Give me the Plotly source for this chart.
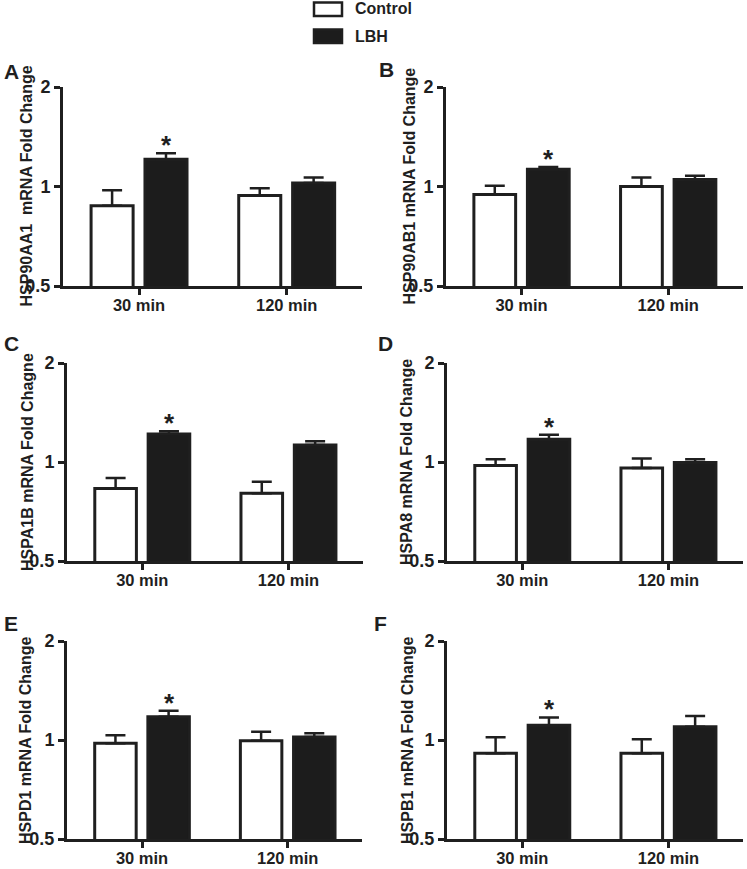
import math
import plotly.graph_objects as go

# ---------------- data ----------------
categories = ["30 min", "120 min"]
panel_letters = ["A", "B", "C", "D", "E", "F"]
y_titles = [
    "HSP90AA1  mRNA Fold Change",
    "HSP90AB1 mRNA Fold Change",
    "HSPA1B mRNA Fold Chagne",
    "HSPA8 mRNA Fold Change",
    "HSPD1 mRNA Fold Change",
    "HSPB1 mRNA Fold Change",
]
control_mean = [
    [0.874, 0.939],
    [0.946, 1.000],
    [0.830, 0.803],
    [0.975, 0.959],
    [0.977, 0.995],
    [0.911, 0.911],
]
control_sem = [
    [0.101, 0.049],
    [0.059, 0.065],
    [0.064, 0.068],
    [0.045, 0.065],
    [0.056, 0.065],
    [0.108, 0.094],
]
lbh_mean = [
    [1.209, 1.025],
    [1.128, 1.050],
    [1.217, 1.127],
    [1.173, 0.996],
    [1.177, 1.021],
    [1.108, 1.097],
]
lbh_sem = [
    [0.051, 0.040],
    [0.018, 0.027],
    [0.023, 0.029],
    [0.037, 0.024],
    [0.051, 0.027],
    [0.063, 0.086],
]
significant = [
    [True, False],
    [True, False],
    [True, False],
    [True, False],
    [True, False],
    [True, False],
]
y_tick_vals = [0.5, 1, 2]
y_tick_text = ["0.5", "1", "2"]
reference_level = 1

# ---------------- layout helpers ----------------
W, H = 747, 869
FONT = "Liberation Sans, Arial, sans-serif"
INK = "#1f1f1f"
BAR_DARK = "#1c1c1c"


def px_x(p):
    return p / W


def px_y(p):
    return 1 - p / H


# plot-area boxes in pixels (left, right, top, bottom)
boxes = [
    (63, 362, 87, 286),
    (446, 743, 87, 286),
    (67, 363, 363, 561),
    (447, 743, 363, 561),
    (67, 362, 641, 839),
    (447, 743, 641, 839),
]
title_x = [26, 409, 28, 407, 26, 408]
letter_pos = [(2, 71), (377, 70), (2, 344), (376, 344), (2, 623), (372, 623)]

fig = go.Figure()
layout = dict(
    width=W,
    height=H,
    margin=dict(l=0, r=0, t=0, b=0, pad=0),
    paper_bgcolor="white",
    plot_bgcolor="white",
    barmode="group",
    bargap=0.27,
    bargroupgap=0.22,
    showlegend=False,
    font=dict(family=FONT, color=INK, size=16, weight=700),
)
annotations = []
shapes = []

for i in range(6):
    k = "" if i == 0 else str(i + 1)
    xa, ya = "x" + k, "y" + k
    l, r, t, b = boxes[i]

    c_err = control_sem[i]
    l_err = lbh_sem[i]

    fig.add_trace(go.Bar(
        x=categories, y=control_mean[i], name="Control",
        marker=dict(color="white", line=dict(color=INK, width=3)),
        error_y=dict(type="data", symmetric=False, array=c_err,
                     arrayminus=[0] * len(c_err), color=INK,
                     thickness=2.5, width=10),
        xaxis=xa, yaxis=ya, offsetgroup="c",
    ))
    fig.add_trace(go.Bar(
        x=categories, y=lbh_mean[i], name="LBH",
        marker=dict(color=BAR_DARK, line=dict(color=INK, width=3)),
        error_y=dict(type="data", symmetric=False, array=l_err,
                     arrayminus=[0] * len(l_err), color=INK,
                     thickness=2.5, width=10),
        xaxis=xa, yaxis=ya, offsetgroup="l",
    ))

    layout["xaxis" + k] = dict(
        domain=[px_x(l), px_x(r)], anchor=ya, type="category",
        range=[-0.515, 1.51], showline=True, linewidth=3, linecolor=INK,
        ticks="outside", ticklen=6, tickwidth=3, tickcolor=INK,
        ticklabelstandoff=-4,
        showgrid=False, zeroline=False, automargin=False,
        tickfont=dict(family=FONT, size=16.5, color=INK, weight=700),
        fixedrange=True,
    )
    layout["yaxis" + k] = dict(
        domain=[px_y(b), px_y(t)], anchor=xa, type="log",
        range=[math.log10(0.5), math.log10(2)],
        tickvals=y_tick_vals, ticktext=y_tick_text,
        showline=True, linewidth=3, linecolor=INK,
        ticks="outside", ticklen=6, tickwidth=3, tickcolor=INK,
        showgrid=False, zeroline=False, automargin=False,
        tickfont=dict(family=FONT, size=18, color=INK, weight=700),
        fixedrange=True,
    )

    # dotted reference line at fold change = 1
    shapes.append(dict(
        type="line", xref=xa + " domain", yref=ya,
        x0=0, x1=1, y0=math.log10(reference_level), y1=math.log10(reference_level),
        line=dict(color=INK, width=2.5, dash="2px,2px"), layer="above",
    ))

    # significance asterisks
    for j, cat in enumerate(categories):
        if significant[i][j]:
            top = lbh_mean[i][j] + lbh_sem[i][j]
            annotations.append(dict(
                x=cat, y=math.log10(top), xref=xa, yref=ya,
                xshift=27, yshift=8, text="*", showarrow=False,
                yanchor="middle",
                font=dict(family=FONT, size=26, color=INK, weight=700),
            ))

    # y-axis title
    annotations.append(dict(
        x=px_x(title_x[i]), y=(px_y(t) + px_y(b)) / 2, xref="paper", yref="paper",
        text=y_titles[i], textangle=-90, showarrow=False,
        xanchor="center", yanchor="middle",
        font=dict(family=FONT, size=16, color=INK, weight=700),
    ))

    # panel letter
    lx, ly = letter_pos[i]
    annotations.append(dict(
        x=px_x(lx), y=px_y(ly), xref="paper", yref="paper",
        text=panel_letters[i], showarrow=False, xanchor="left", yanchor="middle",
        font=dict(family=FONT, size=21, color=INK, weight=700),
    ))

# ---------------- legend (drawn) ----------------
legend_items = [("Control", "white", 9), ("LBH", BAR_DARK, 36)]
for name, fill, cy in legend_items:
    shapes.append(dict(
        type="rect", xref="paper", yref="paper",
        x0=px_x(314), x1=px_x(342), y0=px_y(cy + 7), y1=px_y(cy - 6.5),
        fillcolor=fill, line=dict(color=INK, width=2.5),
    ))
    annotations.append(dict(
        x=px_x(353), y=px_y(cy), xref="paper", yref="paper",
        text=name, showarrow=False, xanchor="left", yanchor="middle",
        font=dict(family=FONT, size=16, color=INK, weight=700),
    ))

layout["annotations"] = annotations
layout["shapes"] = shapes
fig.update_layout(**layout)

fig.write_html(
    "out.html",
    config={"displayModeBar": False, "staticPlot": True},
    post_script="document.body.style.margin='0';document.body.style.overflow='hidden';",
)
